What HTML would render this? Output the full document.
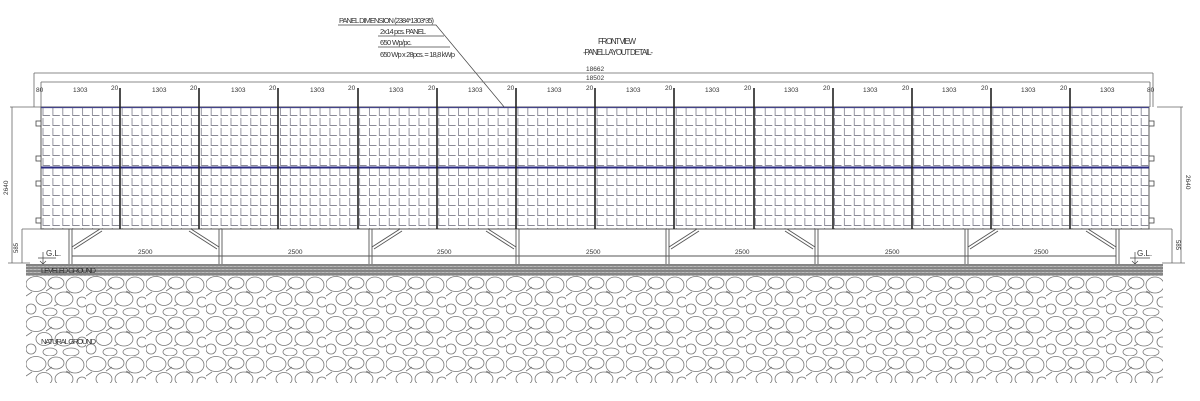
<!DOCTYPE html>
<html><head><meta charset="utf-8"><style>
html,body{margin:0;padding:0;background:#fff}
svg{display:block}
text{font-family:"Liberation Sans",sans-serif;fill:#333}
</style></head><body>
<svg width="1200" height="401" viewBox="0 0 1200 401" xmlns="http://www.w3.org/2000/svg">
<defs>
<pattern id="cell" x="41" y="107" width="9.894" height="10" patternUnits="userSpaceOnUse">
<path d="M2 1 V8.5 H9" stroke="#8a8a96" stroke-width="0.9" fill="none"/>
</pattern>
<pattern id="hatch" x="0" y="264" width="4" height="3" patternUnits="userSpaceOnUse">
<rect width="4" height="3" fill="#bbb"/>
<path d="M0 1 H4" stroke="#555" stroke-width="1.1"/>
<path d="M1 0 V3" stroke="#888" stroke-width="0.7"/>
</pattern>
<pattern id="stone" x="26" y="276" width="60" height="40" patternUnits="userSpaceOnUse">
<g fill="none" stroke="#777" stroke-width="0.8">
<ellipse cx="10" cy="8" rx="10" ry="7.5"/>
<ellipse cx="30" cy="7" rx="8" ry="6"/>
<ellipse cx="49" cy="9" rx="9" ry="8"/>
<ellipse cx="18" cy="23" rx="8" ry="6.5"/>
<ellipse cx="38" cy="23" rx="9" ry="7"/>
<ellipse cx="56" cy="26" rx="5" ry="5"/>
<ellipse cx="5" cy="33" rx="5" ry="5"/>
<ellipse cx="24" cy="36" rx="7" ry="4"/>
<ellipse cx="45" cy="36" rx="8" ry="4"/>
<path d="M0 20 L6 16 M20 15 L26 11 M40 15 L44 17 M28 30 L32 28"/>
</g>
</pattern>
</defs>

<!-- notes -->
<g font-size="7.5">
<text x="339" y="23" textLength="95">PANEL DIMENSION (2384*1303*35)</text>
<text x="380" y="34" textLength="46">2x14 pcs. PANEL</text>
<text x="380" y="45" textLength="32">650 Wp/pc.</text>
<text x="380" y="57" textLength="75">650 Wp x 28pcs. = 18,8 kWp</text>
</g>
<g stroke="#444" stroke-width="0.7" fill="none">
<path d="M338 25 H436 L505 108"/>
<path d="M378 36 H444"/><path d="M378 47 H450"/>
</g>
<text x="598" y="44" font-size="8" textLength="38">FRONT VIEW</text>
<text x="583" y="55" font-size="8" textLength="70">-PANEL LAYOUT DETAIL-</text>

<!-- dimension lines -->
<g stroke="#666" stroke-width="0.8" fill="none">
<path d="M34 73 H1153 M34 73 V107 M1153 73 V107"/>
<path d="M41 82 H1150 M41 82 V107 M1150 82 V107"/>
<path d="M10 107 H41 M12 107 V263 M1157 107 H1183 M1181 107 V263"/>
<path d="M22 229 V263 M1172 229 V263 M22 229 H60 M1130 229 H1172"/>
<path d="M8 263 H30 M1162 263 H1185"/>
</g>
<text x="586" y="71" font-size="6.5">18662</text>
<text x="586" y="80" font-size="6.5">18502</text>
<text x="8" y="195" font-size="6.5" transform="rotate(-90 8 195)">2640</text>
<text x="1186" y="175" font-size="6.5" transform="rotate(90 1186 175)">2640</text>
<text x="18" y="253" font-size="6" transform="rotate(-90 18 253)">585</text>
<text x="1176" y="240" font-size="6" transform="rotate(90 1176 240)">585</text>

<g font-size="6.5">
<text x="36" y="92">80</text>
<text x="73" y="92">1303</text><text x="111" y="90">20</text>
<text x="152" y="92">1303</text><text x="190" y="90">20</text>
<text x="231" y="92">1303</text><text x="269" y="90">20</text>
<text x="310" y="92">1303</text><text x="348" y="90">20</text>
<text x="389" y="92">1303</text><text x="428" y="90">20</text>
<text x="468" y="92">1303</text><text x="507" y="90">20</text>
<text x="547" y="92">1303</text><text x="586" y="90">20</text>
<text x="626" y="92">1303</text><text x="665" y="90">20</text>
<text x="705" y="92">1303</text><text x="744" y="90">20</text>
<text x="784" y="92">1303</text><text x="823" y="90">20</text>
<text x="863" y="92">1303</text><text x="902" y="90">20</text>
<text x="942" y="92">1303</text><text x="981" y="90">20</text>
<text x="1021" y="92">1303</text><text x="1060" y="90">20</text>
<text x="1100" y="92">1303</text><text x="1147" y="92">80</text>
</g>

<!-- panels -->
<rect x="41" y="107" width="1108" height="122" fill="url(#cell)" stroke="#555" stroke-width="1"/>
<path d="M41 167.5 H1149" stroke="#2a2a80" stroke-width="2"/>
<path d="M41 107.5 H1149" stroke="#44448a" stroke-width="1.2"/>
<g stroke="#222" stroke-width="1.6">
<path d="M120 88 V229 M199 88 V229 M278 88 V229 M358 88 V229 M437 88 V229 M516 88 V229 M595 88 V229 M674 88 V229 M754 88 V229 M833 88 V229 M912 88 V229 M991 88 V229 M1070 88 V229"/>
</g>
<g fill="#fff" stroke="#444" stroke-width="0.8">
<rect x="36" y="121" width="5" height="5"/><rect x="36" y="156" width="5" height="5"/><rect x="36" y="181" width="5" height="5"/><rect x="36" y="218" width="5" height="5"/>
<rect x="1149" y="121" width="5" height="5"/><rect x="1149" y="156" width="5" height="5"/><rect x="1149" y="181" width="5" height="5"/><rect x="1149" y="218" width="5" height="5"/>
</g>

<!-- structure -->
<g stroke="#555" stroke-width="0.9" fill="none">
<path d="M69 229 V264 M72 229 V264 M219 229 V264 M222 229 V264 M369 229 V264 M372 229 V264 M516 229 V264 M519 229 V264 M666 229 V264 M669 229 V264 M815 229 V264 M818 229 V264 M965 229 V264 M968 229 V264 M1116 229 V264 M1119 229 V264"/>
<path d="M72 247 L100 229 M74 249 L102 231"/>
<path d="M219 247 L191 229 M217 249 L189 231"/>
<path d="M372 247 L400 229 M374 249 L402 231"/>
<path d="M516 247 L488 229 M514 249 L486 231"/>
<path d="M669 247 L697 229 M671 249 L699 231"/>
<path d="M815 247 L787 229 M813 249 L785 231"/>
<path d="M968 247 L996 229 M970 249 L998 231"/>
<path d="M1116 247 L1088 229 M1114 249 L1086 231"/>
<path d="M72 256 H1116"/>
</g>
<g font-size="6.5">
<text x="138" y="254">2500</text><text x="288" y="254">2500</text><text x="437" y="254">2500</text>
<text x="586" y="254">2500</text><text x="735" y="254">2500</text><text x="885" y="254">2500</text><text x="1034" y="254">2500</text>
</g>
<text x="46" y="256" font-size="8">G.L.</text>
<path d="M38 258 H56 M43 252 V264 M40 261 L43 264 L46 261" stroke="#444" stroke-width="0.7" fill="none"/>
<text x="1137" y="256" font-size="8">G.L.</text>
<path d="M1130 258 H1150 M1135 252 V264 M1132 261 L1135 264 L1138 261" stroke="#444" stroke-width="0.7" fill="none"/>

<!-- ground -->
<rect x="26" y="264" width="1137" height="12" fill="url(#hatch)"/>
<rect x="26" y="276" width="1137" height="107" fill="url(#stone)"/>
<text x="41" y="273" font-size="7.5" textLength="55">LEVELED GROUND</text>
<text x="41" y="344" font-size="7.5" textLength="55">NATURAL GROUND</text>
</svg>
</body></html>
